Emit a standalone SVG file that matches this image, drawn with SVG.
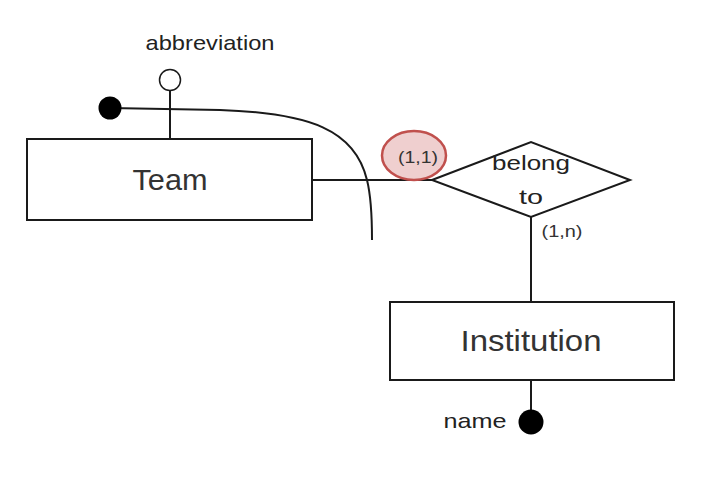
<svg xmlns="http://www.w3.org/2000/svg" width="726" height="498" viewBox="0 0 726 498">
<style>
.box{fill:#fff;stroke:#1a1a1a;stroke-width:2}
.ln{fill:none;stroke:#1a1a1a;stroke-width:2}
.big{font-family:"Liberation Sans",Arial,sans-serif;font-size:29px;fill:#333;text-anchor:middle}
.mid{font-family:"Liberation Sans",Arial,sans-serif;font-size:21px;fill:#222;text-anchor:middle}
.sm{font-family:"Liberation Sans",Arial,sans-serif;font-size:16px;fill:#333;text-anchor:middle}
</style>
<rect width="726" height="498" fill="#fff"/>
<g id="connectors">
<line class="ln" x1="170" y1="91" x2="170" y2="139"/>
<path class="ln" d="M110 108 L220 110 C310 113 355 130 367 180 C370 192 372 215 372 240"/>
<line class="ln" x1="312" y1="180" x2="432" y2="180"/>
<line class="ln" x1="531" y1="217" x2="531" y2="302"/>
<line class="ln" x1="531" y1="380" x2="531" y2="410"/>
</g>
<g id="team">
<rect class="box" x="27" y="139" width="285" height="81"/>
<text class="big" x="170" y="190" textLength="75" lengthAdjust="spacingAndGlyphs">Team</text>
</g>
<g id="abbreviation">
<circle cx="170" cy="80" r="10.5" fill="#fff" stroke="#1a1a1a" stroke-width="1.5"/>
<text class="mid" x="210" y="50" textLength="129" lengthAdjust="spacingAndGlyphs">abbreviation</text>
</g>
<g id="team-key">
<circle cx="110" cy="108" r="11.5" fill="#000"/>
</g>
<g id="card-1-1">
<ellipse cx="414" cy="155.5" rx="32" ry="24.5" fill="#efcfcf" stroke="#c0504d" stroke-width="2.5"/>
<text class="sm" x="418" y="163" textLength="40" lengthAdjust="spacingAndGlyphs">(1,1)</text>
</g>
<g id="belong-to">
<polygon class="box" points="432,180 531,142 630,180 531,217"/>
<text class="mid" x="531" y="170" textLength="78" lengthAdjust="spacingAndGlyphs">belong</text>
<text class="mid" x="531" y="204" textLength="24" lengthAdjust="spacingAndGlyphs">to</text>
</g>
<g id="card-1-n">
<text class="sm" x="562" y="237" textLength="41" lengthAdjust="spacingAndGlyphs">(1,n)</text>
</g>
<g id="institution">
<rect class="box" x="390" y="302" width="284" height="78"/>
<text class="big" x="531" y="351" textLength="141" lengthAdjust="spacingAndGlyphs">Institution</text>
</g>
<g id="name">
<circle cx="531" cy="422" r="12.5" fill="#000"/>
<text class="mid" x="475" y="428" textLength="63" lengthAdjust="spacingAndGlyphs">name</text>
</g>
</svg>
